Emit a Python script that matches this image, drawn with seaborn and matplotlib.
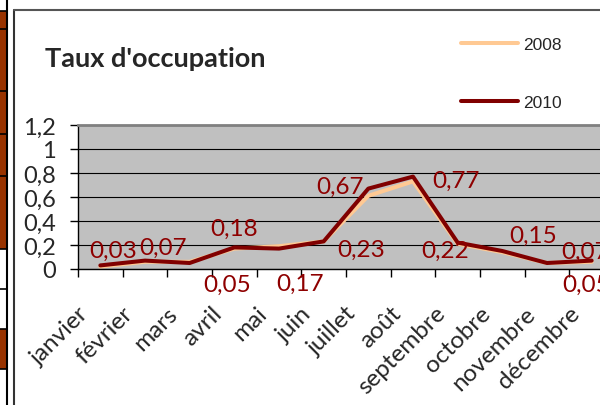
import numpy as np
import matplotlib
matplotlib.use('Agg')
import matplotlib.pyplot as plt
import matplotlib.transforms as mtransforms
from matplotlib.patches import Rectangle
from matplotlib.lines import Line2D
import seaborn as sns

# data
months = ['janvier', 'février', 'mars', 'avril', 'mai', 'juin', 'juillet',
          'août', 'septembre', 'octobre', 'novembre', 'décembre']
occ_2008 = [0.02, 0.06, 0.06, 0.17, 0.19, 0.23, 0.61, 0.73, 0.21, 0.14, 0.05, 0.06]
occ_2010 = [0.03, 0.07, 0.05, 0.18, 0.17, 0.23, 0.67, 0.77, 0.22, 0.15, 0.05, 0.07]
label_2010 = ['0,03', '0,07', '0,05', '0,18', '0,17', '0,23', '0,67', '0,77',
              '0,22', '0,15', '0,05', '0,07']
yticks = [0, 0.2, 0.4, 0.6, 0.8, 1.0, 1.2]
ytick_labels = ['0', '0,2', '0,4', '0,6', '0,8', '1', '1,2']

# where each data label sits relative to its point (pixels, x right / y up)
label_offsets = [(13, 15), (18, 13), (37, -21), (0, 19), (21, -35), (37, -8),
                 (-28, 2), (43, -4), (-13, -8), (31, 16), (39, -21), (-7, 9)]

sns.set_style('ticks')
plt.rcParams['font.family'] = ['Lato', 'DejaVu Sans']

W, H = 600, 406
fig = plt.figure(figsize=(W / 100, H / 100), dpi=100)


def fx(x):
    return x / W


def fy(y):
    return 1 - y / H


# bit of the spreadsheet showing at the left
brown = '#993300'
for y0, y1 in [(12, 250), (330, 370)]:
    fig.patches.append(Rectangle((0, fy(y1)), fx(7), (y1 - y0) / H,
                                 transform=fig.transFigure, facecolor=brown,
                                 edgecolor='none'))
for yy in [12, 30, 92, 135, 177, 250, 290, 330, 370]:
    fig.add_artist(Line2D([0, fx(7)], [fy(yy), fy(yy)], color='black', lw=1.2,
                          transform=fig.transFigure))
fig.add_artist(Line2D([fx(7), fx(7)], [0, 1], color='black', lw=1.5,
                      transform=fig.transFigure))

# chart frame
fig.add_artist(Line2D([fx(14), fx(14)], [0, fy(11)], color='#333333', lw=1.5,
                      transform=fig.transFigure))
fig.add_artist(Line2D([fx(14), 1], [fy(11), fy(11)], color='#555555', lw=1.5,
                      transform=fig.transFigure))

ax = fig.add_axes([fx(78), fy(270), 536 / W, 144 / H])
ax.set_facecolor('#C0C0C0')

x = np.arange(len(months))
sns.lineplot(x=x, y=occ_2008, ax=ax, color='#FFC993', lw=2.9, label='2008')
sns.lineplot(x=x, y=occ_2010, ax=ax, color='#800000', lw=2.9, label='2010')

ax.set_xlim(-0.5, len(months) - 0.5)
ax.set_ylim(0, 1.2)
ax.set_xlabel('')
ax.set_ylabel('')

ax.set_yticks(yticks)
ax.set_yticklabels(ytick_labels)
ax.yaxis.grid(True, color='black', lw=0.8)
ax.set_axisbelow(True)
ax.tick_params(axis='y', left=True, length=6, width=1, direction='out',
               pad=10, labelsize=17, color='black')

ax.set_xticks(x)
ax.set_xticklabels(months, rotation=45, ha='right', va='top')
ax.set_xticks(np.arange(-0.5, len(months), 1), minor=True)
ax.tick_params(axis='x', which='major', bottom=True, length=0, pad=24, labelsize=17.5)
ax.tick_params(axis='x', which='minor', bottom=True, length=6, width=1,
               direction='out', color='black')
shift = mtransforms.ScaledTranslation(-8 / 100, 0, fig.dpi_scale_trans)
for lbl in ax.get_xticklabels():
    lbl.set_transform(lbl.get_transform() + shift)

for s in ['left', 'bottom']:
    ax.spines[s].set_color('black')
    ax.spines[s].set_linewidth(1)
ax.spines['top'].set_visible(True)
ax.spines['top'].set_color('#808080')
ax.spines['top'].set_linewidth(2)
ax.spines['right'].set_visible(False)

for i, (val, txt) in enumerate(zip(occ_2010, label_2010)):
    dx, dy = label_offsets[i]
    ax.annotate(txt, xy=(i, val), xytext=(dx, dy), textcoords='offset pixels',
                ha='center', va='center', fontsize=17.5, color='#8E0000')

handles, labels = ax.get_legend_handles_labels()
ax.get_legend().remove()
fig.legend(handles, labels, loc='upper left', bbox_to_anchor=(fx(461), fy(38)),
           frameon=False, prop={'family': 'Liberation Sans', 'size': 12.5},
           handlelength=3.3, handletextpad=0.3, labelspacing=2.45,
           borderpad=0, borderaxespad=0)

fig.text(fx(45), fy(67), "Taux d'occupation", fontsize=19.5, fontweight='bold',
         ha='left', va='baseline')

fig.savefig('out.png', dpi=100)
